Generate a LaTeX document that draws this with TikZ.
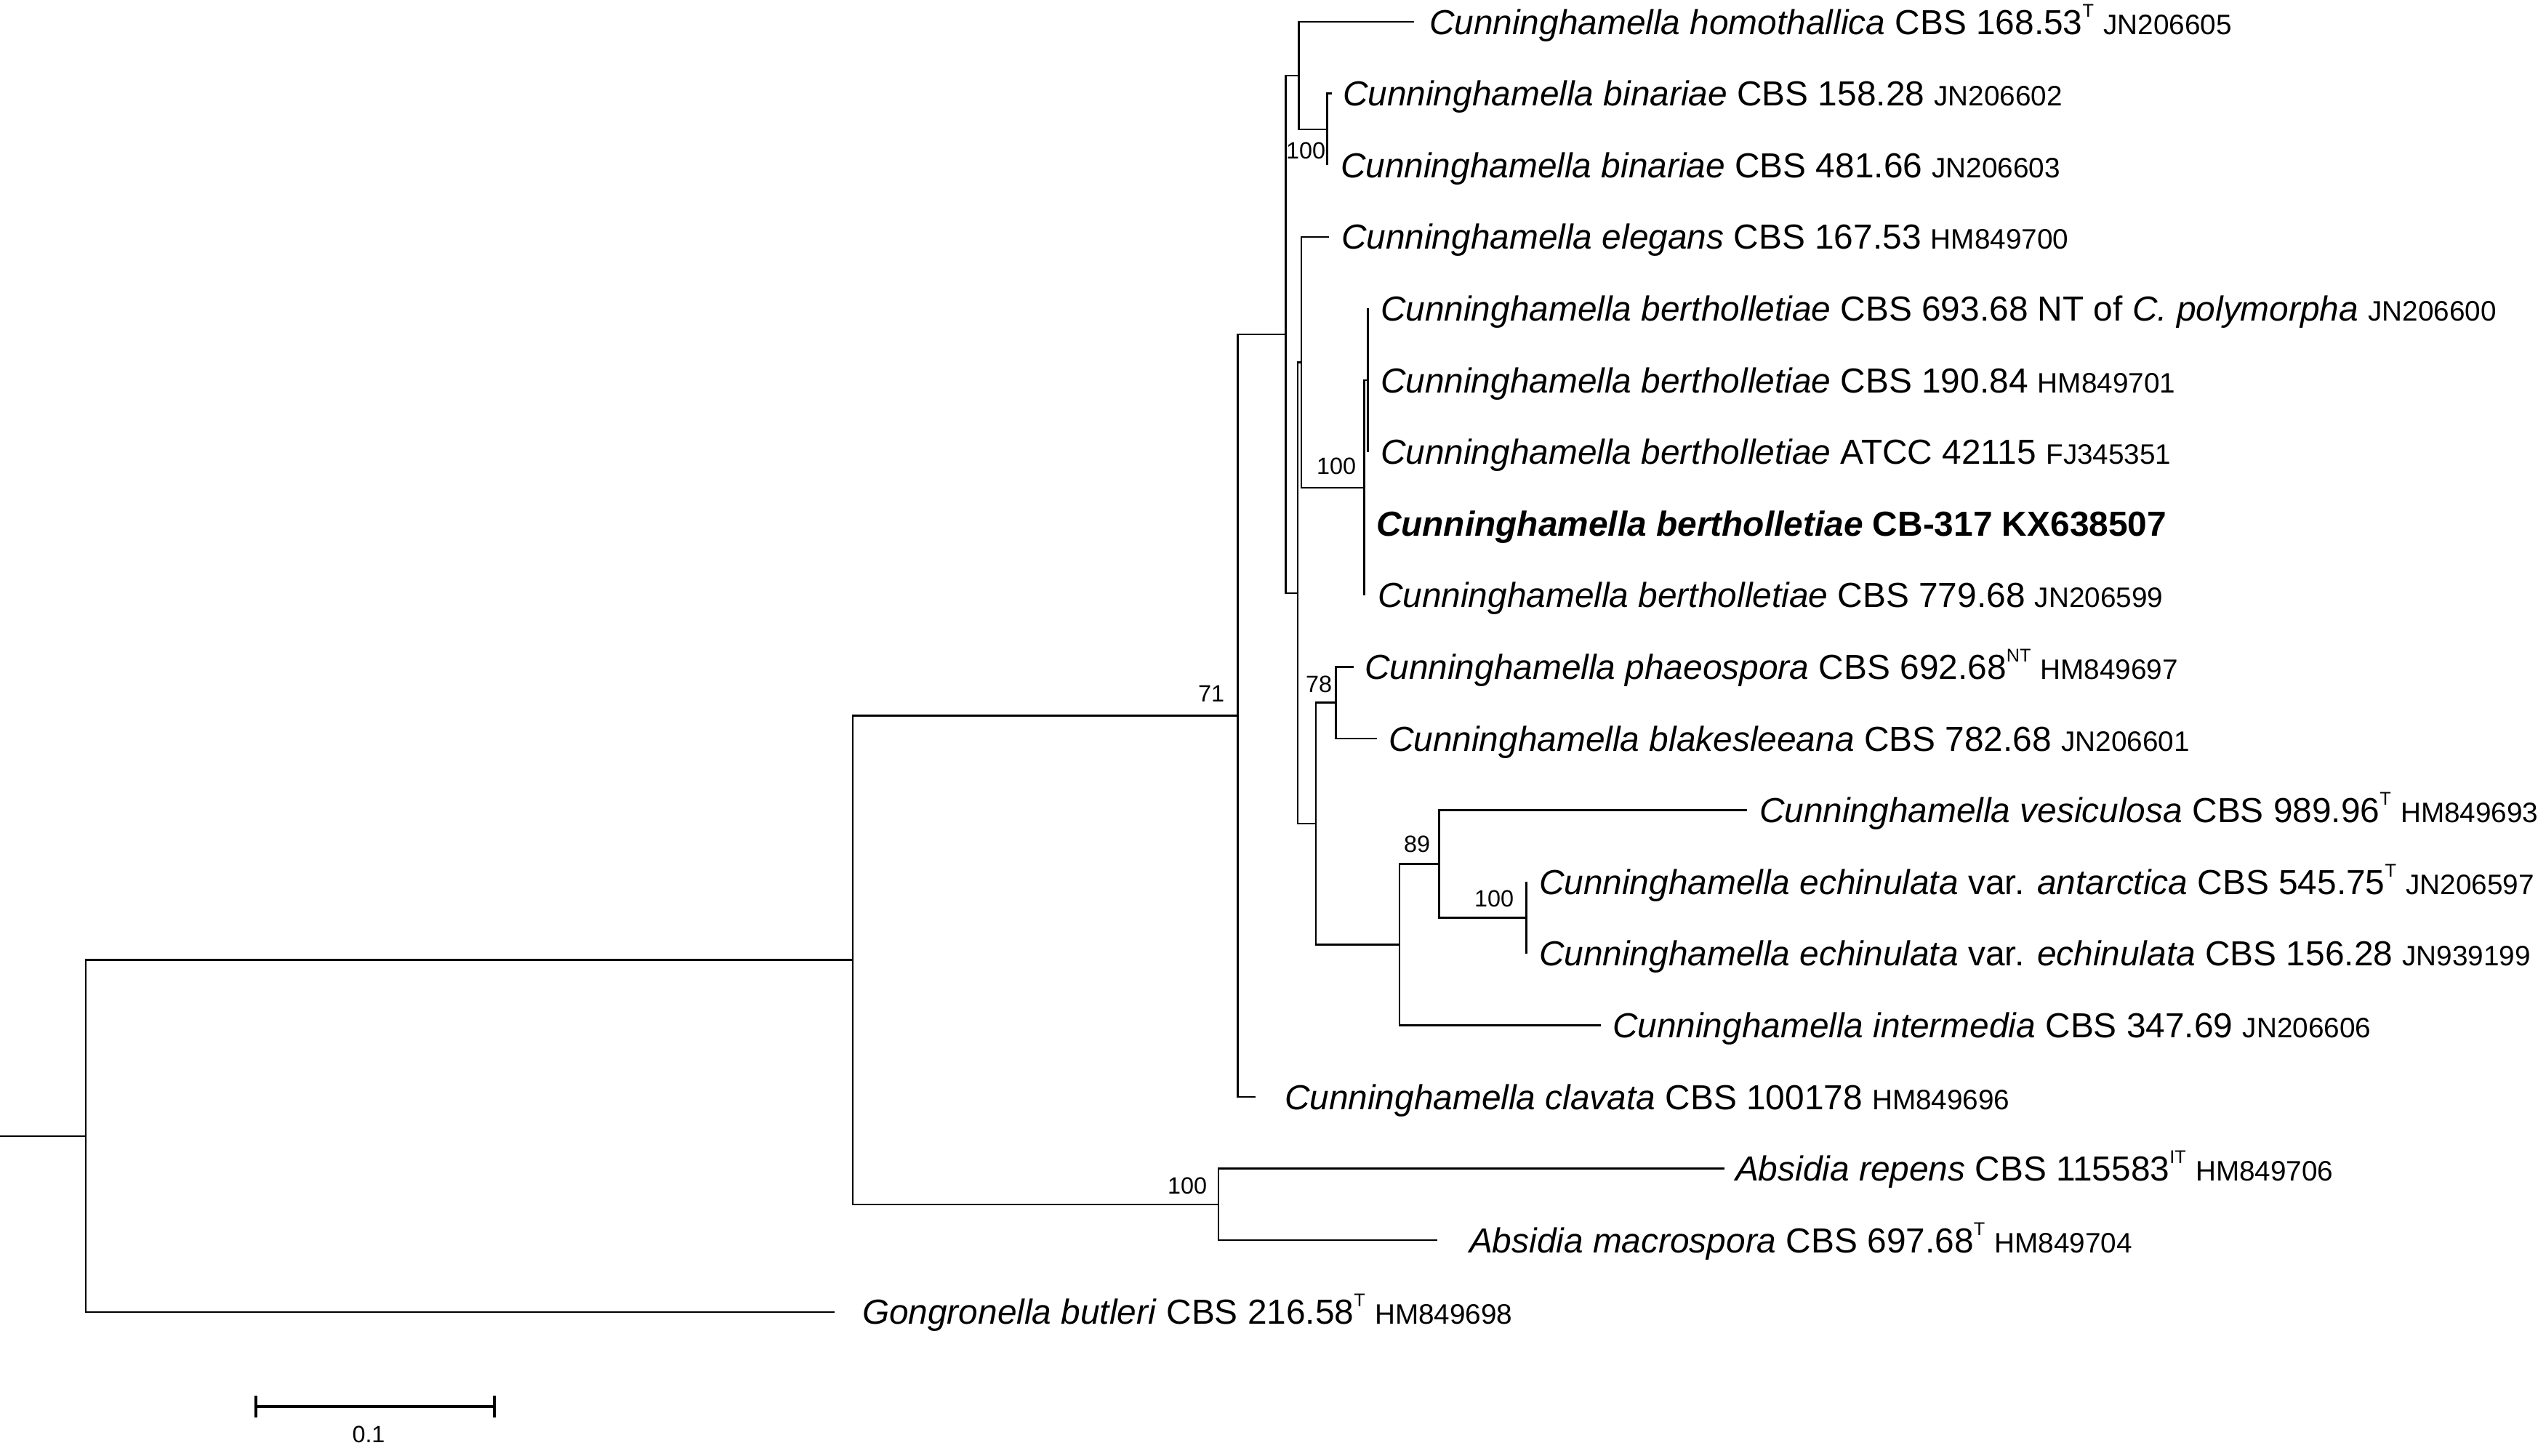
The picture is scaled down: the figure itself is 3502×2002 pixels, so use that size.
\documentclass[tikz,border=0pt]{standalone}
\usepackage{fontspec}
\setmainfont{Liberation Sans}
\newcommand{\accn}[1]{{\fontsize{11}{13}\selectfont #1}}
\newcommand{\sups}[1]{\raisebox{6.8pt}{\fontsize{7.2}{8}\selectfont #1}}
\begin{document}
\begin{tikzpicture}[x=0.01cm,y=-0.01cm,line width=0.7pt,
  lab/.style={anchor=base west,inner sep=0pt,outer sep=0pt,font=\fontsize{13.6}{16}\selectfont},
  boot/.style={anchor=base east,inner sep=0pt,outer sep=0pt,font=\fontsize{9.2}{11}\selectfont},
  branch/.style={draw=black,line width=0.7pt},
  scalebar/.style={draw=black,line width=1.1pt}]
\useasboundingbox (0,0) rectangle (3502,2002);
% internal nodes
\coordinate (root) at (0,1562.73);
\coordinate (nA) at (118,1562.73);
\coordinate (nB) at (1173,1320.66);
\coordinate (n71) at (1702.7,984.42);
\coordinate (nN) at (1676,1656.9);
\coordinate (nC) at (1768.3,459.84);
\coordinate (nD) at (1786.7,103.95);
\coordinate (nBi) at (1825.7,177.9);
\coordinate (nH) at (1785,815.72);
\coordinate (nE) at (1790,498.35);
\coordinate (nF) at (1876.7,670.9);
\coordinate (nG) at (1881.7,523);
\coordinate (nI) at (1810,1133.09);
\coordinate (nJ) at (1837.3,966.7);
\coordinate (nK) at (1925,1299.48);
\coordinate (nL) at (1979.3,1188.55);
\coordinate (nM) at (2099.7,1262.5);
% leaf tips
\coordinate (tHomo) at (1945,30);
\coordinate (tBi1) at (1831.7,128.6);
\coordinate (tBi2) at (1825.7,227.2);
\coordinate (tEle) at (1828.3,325.8);
\coordinate (t693) at (1881.7,424.4);
\coordinate (t190) at (1881.7,523);
\coordinate (tATCC) at (1881.7,621.6);
\coordinate (tCB) at (1876.7,720.2);
\coordinate (t779) at (1876.7,818.8);
\coordinate (tPha) at (1861.7,917.4);
\coordinate (tBla) at (1894.3,1016);
\coordinate (tVes) at (2403,1114.6);
\coordinate (tEch1) at (2099.7,1213.2);
\coordinate (tEch2) at (2099.7,1311.8);
\coordinate (tInt) at (2202,1410.4);
\coordinate (tCla) at (1727,1509);
\coordinate (tRep) at (2372,1607.6);
\coordinate (tMac) at (1977,1706.2);
\coordinate (tGon) at (1148,1804.8);
% branches
\draw[branch] (root) -- (nA);
\draw[branch] (nA) |- (nB);
\draw[branch] (nA) |- (tGon);
\draw[branch] (nB) |- (n71);
\draw[branch] (nB) |- (nN);
\draw[branch] (nN) |- (tRep);
\draw[branch] (nN) |- (tMac);
\draw[branch] (n71) |- (nC);
\draw[branch] (n71) |- (tCla);
\draw[branch] (nC) |- (nD);
\draw[branch] (nC) |- (nH);
\draw[branch] (nD) |- (tHomo);
\draw[branch] (nD) |- (nBi);
\draw[branch] (nBi) |- (tBi1);
\draw[branch] (nBi) |- (tBi2);
\draw[branch] (nH) |- (nE);
\draw[branch] (nH) |- (nI);
\draw[branch] (nE) |- (tEle);
\draw[branch] (nE) |- (nF);
\draw[branch] (nF) |- (nG);
\draw[branch] (nF) |- (tCB);
\draw[branch] (nF) |- (t779);
\draw[branch] (nG) |- (t693);
\draw[branch] (nG) |- (t190);
\draw[branch] (nG) |- (tATCC);
\draw[branch] (nI) |- (nJ);
\draw[branch] (nI) |- (nK);
\draw[branch] (nJ) |- (tPha);
\draw[branch] (nJ) |- (tBla);
\draw[branch] (nK) |- (nL);
\draw[branch] (nK) |- (tInt);
\draw[branch] (nL) |- (tVes);
\draw[branch] (nL) |- (nM);
\draw[branch] (nM) |- (tEch1);
\draw[branch] (nM) |- (tEch2);
% taxon labels
\node[lab] (lHomo) at (1966,47) {\textit{Cunninghamella homothallica} CBS 168.53\sups{T} \accn{JN206605}};
\node[lab] (lBi1) at (1847,145.6) {\textit{Cunninghamella binariae} CBS 158.28 \accn{JN206602}};
\node[lab] (lBi2) at (1844,244.2) {\textit{Cunninghamella binariae} CBS 481.66 \accn{JN206603}};
\node[lab] (lEle) at (1845,342.8) {\textit{Cunninghamella elegans} CBS 167.53 \accn{HM849700}};
\node[lab] (l693) at (1899,441.4) {\textit{Cunninghamella bertholletiae} CBS 693.68 NT of \textit{C. polymorpha} \accn{JN206600}};
\node[lab] (l190) at (1899,540) {\textit{Cunninghamella bertholletiae} CBS 190.84 \accn{HM849701}};
\node[lab] (lATCC) at (1899,638.6) {\textit{Cunninghamella bertholletiae} ATCC 42115 \accn{FJ345351}};
\node[lab] (lCB) at (1893,737.2) {\textbf{\textit{Cunninghamella bertholletiae} CB-317 KX638507}};
\node[lab] (l779) at (1895,835.8) {\textit{Cunninghamella bertholletiae} CBS 779.68 \accn{JN206599}};
\node[lab] (lPha) at (1877,934.4) {\textit{Cunninghamella phaeospora} CBS 692.68\sups{NT} \accn{HM849697}};
\node[lab] (lBla) at (1910,1033) {\textit{Cunninghamella blakesleeana} CBS 782.68 \accn{JN206601}};
\node[lab] (lVes) at (2420,1131.6) {\textit{Cunninghamella vesiculosa} CBS 989.96\sups{T} \accn{HM849693}};
\node[lab] (lEch1) at (2117,1230.2) {\textit{Cunninghamella echinulata} var. \textit{antarctica} CBS 545.75\sups{T} \accn{JN206597}};
\node[lab] (lEch2) at (2117,1328.8) {\textit{Cunninghamella echinulata} var. \textit{echinulata} CBS 156.28 \accn{JN939199}};
\node[lab] (lInt) at (2218,1427.4) {\textit{Cunninghamella intermedia} CBS 347.69 \accn{JN206606}};
\node[lab] (lCla) at (1767,1526) {\textit{Cunninghamella clavata} CBS 100178 \accn{HM849696}};
\node[lab] (lRep) at (2387,1624.6) {\textit{Absidia repens} CBS 115583\sups{IT} \accn{HM849706}};
\node[lab] (lMac) at (2021,1723.2) {\textit{Absidia macrospora} CBS 697.68\sups{T} \accn{HM849704}};
\node[lab] (lGon) at (1186,1821.8) {\textit{Gongronella butleri} CBS 216.58\sups{T} \accn{HM849698}};
% bootstrap values
\node[boot] (b71) at (1684,965) {71};
\node[boot] (bBi) at (1823,218) {100};
\node[boot] (bF) at (1865,652) {100};
\node[boot] (bJ) at (1832,952) {78};
\node[boot] (bL) at (1967,1172) {89};
\node[boot] (bM) at (2082,1247) {100};
\node[boot] (bN) at (1660,1642) {100};
% scale bar
\coordinate (sb1) at (352,1935);
\coordinate (sb2) at (680,1935);
\draw[scalebar] (sb1) -- (sb2);
\draw[scalebar] ([yshift=0.15cm]sb1) -- ([yshift=-0.15cm]sb1);
\draw[scalebar] ([yshift=0.15cm]sb2) -- ([yshift=-0.15cm]sb2);
\node[font=\fontsize{9.2}{11}\selectfont,inner sep=0pt] (sbl) at (507,1973) {0.1};
\end{tikzpicture}
\end{document}
